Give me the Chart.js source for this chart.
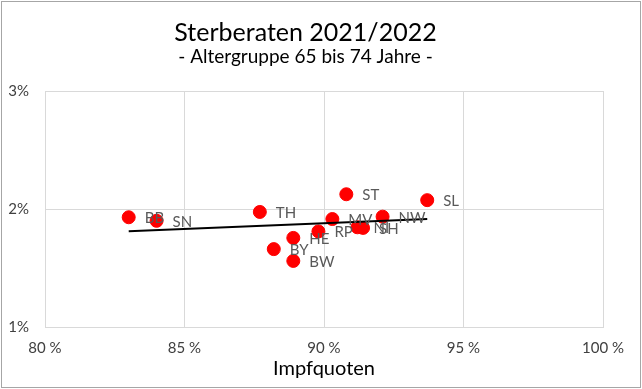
<!DOCTYPE html>
<html>
<head>
<meta charset="utf-8">
<script src="https://cdn.jsdelivr.net/npm/chart.js@4"></script>
<style>
  html, body { margin: 0; padding: 0; background: #fff; }
  #wrap { width: 642px; height: 389px; }
</style>
</head>
<body>
<div id="wrap"><canvas id="myChart"></canvas></div>
<script>
const laender = ["BB", "SN", "TH", "HE", "BY", "BW", "RP", "MV", "ST", "NI", "SH", "NW", "SL"];
const impfquote = [83.0, 84.0, 87.7, 88.9, 88.2, 88.9, 89.8, 90.3, 90.8, 91.2, 91.4, 92.1, 93.7];
const sterberate = [1.93, 1.90, 1.975, 1.755, 1.66, 1.56, 1.81, 1.915, 2.125, 1.845, 1.84, 1.935, 2.075];

// linear trend line (least squares), like the Excel trendline
const n = impfquote.length;
const mx = impfquote.reduce((a, b) => a + b, 0) / n;
const my = sterberate.reduce((a, b) => a + b, 0) / n;
let sxy = 0, sxx = 0;
impfquote.forEach((x, i) => {
  sxy += (x - mx) * (sterberate[i] - my);
  sxx += (x - mx) * (x - mx);
});
const slope = sxy / sxx;
const xMin = Math.min(...impfquote);
const xMax = Math.max(...impfquote);
const trend = [xMin, xMax].map((x) => ({ x: x, y: my + slope * (x - mx) }));

const font = "Lato";

const pointLabels = {
  id: "pointLabels",
  afterDatasetsDraw(chart) {
    const ctx = chart.ctx;
    const meta = chart.getDatasetMeta(1);
    ctx.save();
    ctx.font = "15px " + font;
    ctx.fillStyle = "#595959";
    ctx.textBaseline = "middle";
    meta.data.forEach((pt, i) => {
      ctx.fillText(laender[i], pt.x + 16, pt.y + 1);
    });
    ctx.restore();
  },
};

const frame = {
  id: "frame",
  beforeDraw(chart) {
    const ctx = chart.ctx;
    ctx.save();
    ctx.fillStyle = "#fff";
    ctx.fillRect(0, 0, chart.width, chart.height);
    ctx.strokeStyle = "#a6a6a6";
    ctx.lineWidth = 1;
    ctx.strokeRect(1.5, 1.5, chart.width - 3, chart.height - 3);
    ctx.restore();
  },
};

new Chart(document.getElementById("myChart"), {
  type: "scatter",
  data: {
    datasets: [
      {
        type: "line",
        data: trend,
        borderColor: "#000",
        borderWidth: 2,
        pointRadius: 0,
        fill: false,
      },
      {
        data: impfquote.map((x, i) => ({ x: x, y: sterberate[i] })),
        backgroundColor: "#ff0000",
        borderColor: "#ff0000",
        pointRadius: 6.5,
        pointHoverRadius: 6.5,
      },
    ],
  },
  plugins: [frame, pointLabels],
  options: {
    responsive: true,
    maintainAspectRatio: false,
    animation: false,
    layout: { padding: { left: 8, right: 39, top: 0, bottom: 6 } },
    scales: {
      x: {
        type: "linear",
        min: 80,
        max: 100,
        afterFit: (s) => { s.height = 56; },
        ticks: {
          stepSize: 5,
          padding: 12,
          color: "#404040",
          font: { family: font, size: 15 },
          callback: (v) => v + " %",
        },
        grid: { color: "#d9d9d9", drawTicks: false },
        border: { color: "#d9d9d9" },
        title: {
          display: true,
          text: "Impfquoten",
          color: "#000",
          font: { family: font, size: 20 },
          padding: { top: 0, bottom: 2 },
        },
      },
      y: {
        min: 1,
        max: 3,
        afterFit: (s) => { s.width = 37; },
        ticks: {
          stepSize: 1,
          padding: 16,
          color: "#404040",
          font: { family: font, size: 15 },
          callback: (v) => v + "%",
        },
        grid: { color: "#d9d9d9", drawTicks: false },
        border: { color: "#d9d9d9" },
      },
    },
    plugins: {
      legend: { display: false },
      tooltip: { enabled: false },
      title: {
        display: true,
        text: "Sterberaten 2021/2022",
        color: "#000",
        font: { family: font, size: 25, weight: "normal", lineHeight: 1 },
        padding: { top: 20, bottom: 2 },
      },
      subtitle: {
        display: true,
        text: "- Altergruppe 65 bis 74 Jahre -",
        color: "#000",
        font: { family: font, size: 19, lineHeight: 1 },
        padding: { top: 0, bottom: 25 },
      },
    },
  },
});
</script>
</body>
</html>
